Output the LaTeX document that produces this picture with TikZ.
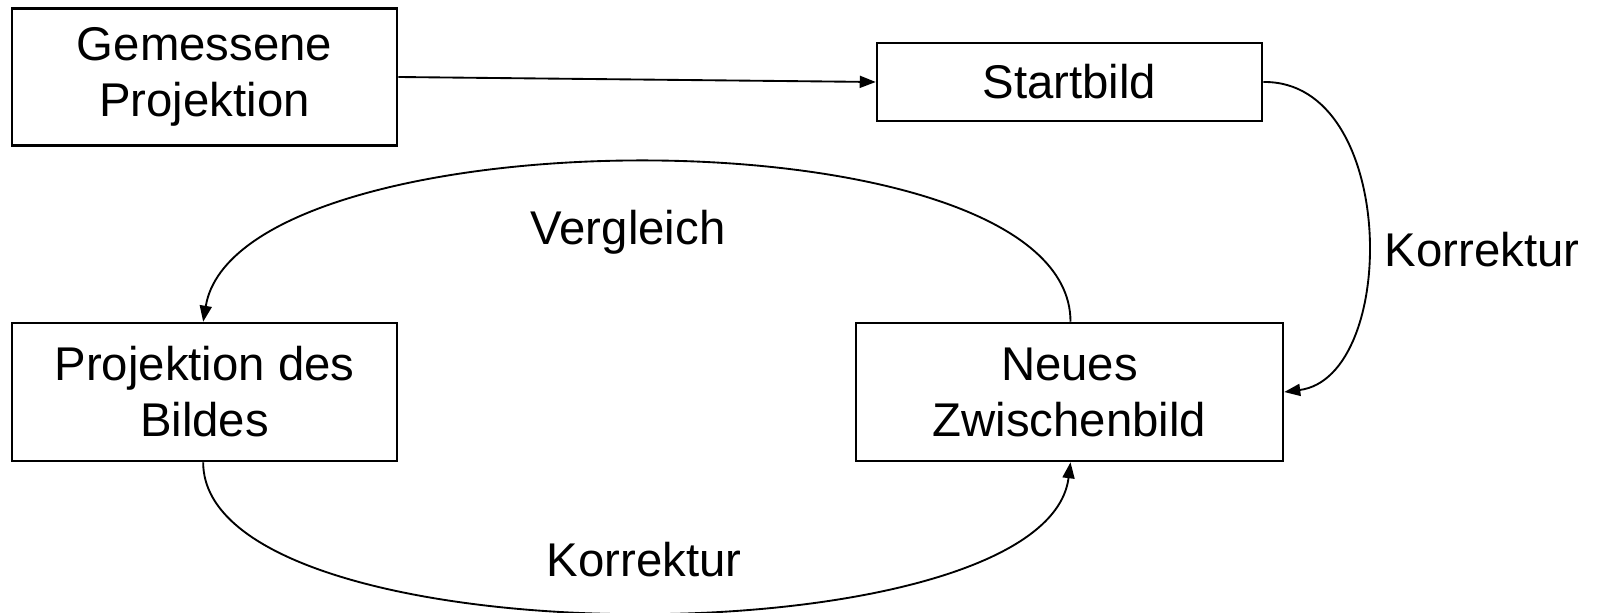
\documentclass[tikz,border=0pt]{standalone}
\usepackage{fontspec}
\setmainfont{Liberation Sans}
\usetikzlibrary{arrows.meta}

\tikzset{every picture/.style={line width=0.75pt}}
\tikzset{
  bx/.style={draw, line width=1.9pt, inner sep=0pt, align=center, font=\fontsize{35.5}{42}\selectfont},
  lbl/.style={inner sep=0pt, font=\fontsize{35.5}{42}\selectfont},
  arr/.style={-{Triangle[length=12pt,width=9pt]}, line width=1.4pt}
}

\begin{document}
\begin{tikzpicture}[x=0.75pt,y=0.75pt,yscale=-1,xscale=1]
\useasboundingbox (0,0) rectangle (1598,613);

%Shape: Rectangle [id:gem]
\draw (204.5,77) node (gem) [bx, minimum width=288.75pt, minimum height=102.75pt] {Gemessene\\Projektion};
%Shape: Rectangle [id:start]
\draw (1069.5,82) node (start) [bx, minimum width=288.75pt, minimum height=58.5pt] {Startbild};
%Shape: Rectangle [id:proj]
\draw (204.5,392) node (proj) [bx, minimum width=288.75pt, minimum height=103.5pt] {Projektion des\\Bildes};
%Shape: Rectangle [id:neu]
\draw (1069.5,392) node (neu) [bx, minimum width=320.25pt, minimum height=103.5pt] {Neues\\Zwischenbild};

%Straight Lines [id:gem-start]
\draw [arr]  (gem.east) -- (start.west) ;

%Curve Lines [id:start-neu]
\draw [arr]  (start.east) .. controls +(135,-2) and +(115,-15) .. (neu.east) ;

%Curve Lines [id:neu-proj]
\draw [arr]  ([xshift=0.75pt]neu.north) .. controls +(0,-215) and +(35,-210) .. ([xshift=-1pt]proj.north) ;

%Curve Lines [id:proj-neu]
\draw [arr]  ([xshift=-1pt]proj.south) .. controls +(0,200) and +(-25,200) .. ([xshift=0.75pt]neu.south) ;

% Text Node
\draw (1482,250) node (lkr) [lbl] {Korrektur};
% Text Node
\draw (628,232) node (lvg) [lbl] {Vergleich};
% Text Node
\draw (644,560) node (lkb) [lbl] {Korrektur};

\end{tikzpicture}
\end{document}
